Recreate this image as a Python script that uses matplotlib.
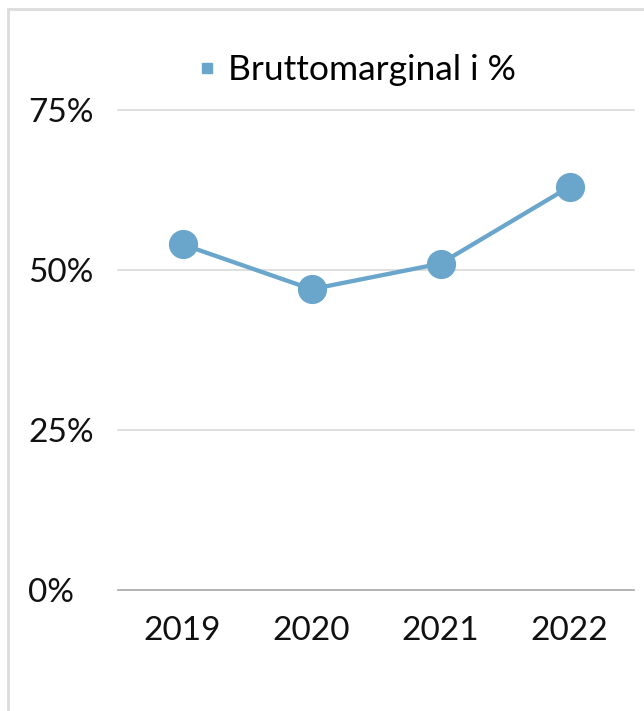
import matplotlib
matplotlib.use("Agg")
import matplotlib.pyplot as plt
from matplotlib.lines import Line2D
from matplotlib.patches import Rectangle

years = ["2019", "2020", "2021", "2022"]
margin_pct = [54.0, 47.0, 51.0, 63.0]
series_label = "Bruttomarginal i %"
yticks = [0, 25, 50, 75]
ytick_labels = ["0%", "25%", "50%", "75%"]

color = "#6aa6cb"
plt.rcParams['font.family'] = ['Lato', 'DejaVu Sans']

W, H = 644, 711
fig = plt.figure(figsize=(W / 100, H / 100), dpi=100)
fig.patch.set_facecolor("white")

ax = fig.add_axes([118 / W, 1 - 590 / H, (634 - 118) / W, (590 - 110) / H])
x = list(range(len(years)))
ax.plot(x, margin_pct, color=color, lw=3.1, marker="o", markersize=20,
        markerfacecolor=color, markeredgecolor=color, zorder=3, clip_on=False)
ax.set_xlim(-0.5, len(years) - 0.5)
ax.set_ylim(0, 75)
ax.set_yticks(yticks)
ax.set_yticklabels(ytick_labels)
ax.set_xticks(x)
ax.set_xticklabels(years)
for s in ax.spines.values():
    s.set_visible(False)
ax.tick_params(axis="both", length=0, labelsize=24, colors="#111111")
ax.tick_params(axis="x", pad=19)
for yv in yticks:
    ax.axhline(yv, color="#a6a6a6" if yv == 0 else "#d9d9d9", lw=1.2, zorder=1,
               clip_on=False)
for lbl in ax.get_yticklabels():
    lbl.set_horizontalalignment("left")
    lbl.set_x(-90 / (634 - 118))
ax.tick_params(axis="y", pad=0)

handle = Line2D([], [], linestyle="none", marker="s", markersize=7,
                markerfacecolor=color, markeredgecolor=color)
fig.legend([handle], [series_label], loc="center", bbox_to_anchor=(357 / W, 1 - 70 / H),
           frameon=False, handlelength=0.5, handletextpad=0.35,
           prop={'size': 25.5})

fig.add_artist(Rectangle((8 / W, -0.05), 1.0, 1 - 9 / H + 0.05, transform=fig.transFigure,
                         fill=False, edgecolor="#dcdcdc", lw=2))

fig.savefig("out.png", dpi=100, facecolor="white")
